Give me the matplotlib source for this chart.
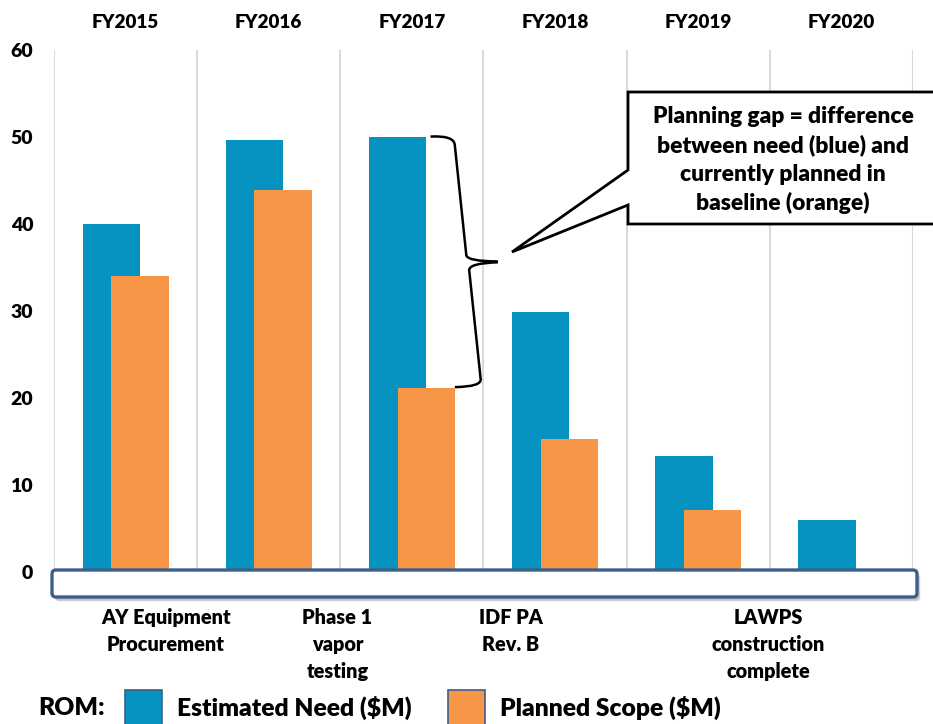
import numpy as np
import matplotlib.pyplot as plt
from matplotlib.patches import FancyBboxPatch, Rectangle, Polygon, PathPatch
from matplotlib.path import Path

plt.rcParams["font.family"] = ["Lato", "DejaVu Sans"]
WT = 800

# data
years = ["FY2015", "FY2016", "FY2017", "FY2018", "FY2019", "FY2020"]
need = [40.0, 49.7, 50.0, 29.9, 13.3, 6.0]
planned = [34.0, 43.9, 21.2, 15.3, 7.1, 0.0]
milestones = ["AY Equipment\nProcurement", "Phase 1\nvapor\ntesting",
              "IDF PA\nRev. B", "LAWPS\nconstruction\ncomplete"]
milestone_pos = [0.28, 1.48, 2.69, 4.49]
callout = "Planning gap = difference\nbetween need (blue) and\ncurrently planned in\nbaseline (orange)"

BLUE = "#0693BF"
ORANGE = "#F79646"
EDGE = "#3D5F8C"

W, H = 933, 724
fig = plt.figure(figsize=(W / 100, H / 100), dpi=100)
ax = fig.add_axes([54 / W, 1 - 572 / H, 859 / W, 522 / H])
inch = fig.dpi_scale_trans


def px(x, y):
    # figure pixel (from top-left) -> inches
    return x / 100, (H - y) / 100


x = np.arange(len(years))
ax.vlines(np.arange(-0.5, len(years)), 0, 60, color="#D9D9D9", lw=1.5, zorder=0)
ax.bar(x - 0.1, need, width=0.4, color=BLUE, zorder=2)
ax.bar(x + 0.1, planned, width=0.4, color=ORANGE, zorder=3)

ax.set_xlim(-0.5, len(years) - 0.5)
ax.set_ylim(0, 60)
ax.set_yticks(range(0, 61, 10))
ax.xaxis.tick_top()
ax.set_xticks(x)
ax.set_xticklabels(years, fontsize=13.6, fontweight=WT)
ax.tick_params(axis="x", length=0, pad=14)
ax.tick_params(axis="y", length=0, pad=15, labelsize=14)
for lab in ax.get_yticklabels():
    lab.set_fontweight(WT)
for s in ax.spines.values():
    s.set_visible(False)

# bottom timeline box with a soft shadow
bx, by = px(52, 597)
bw, bh = 865 / 100, 27 / 100
for i, a in enumerate([0.12, 0.18, 0.25]):
    off = (3 - i) / 100
    fig.patches.append(FancyBboxPatch((bx + 0.02 + off / 2, by - 0.03 - off / 2), bw, bh,
                                      boxstyle="round,pad=0,rounding_size=0.04",
                                      transform=inch, fc="#7F7F7F", ec="none", alpha=a))
fig.patches.append(FancyBboxPatch((bx, by), bw, bh, boxstyle="round,pad=0,rounding_size=0.04",
                                  transform=inch, fc="white", ec=EDGE, lw=2.4))

# milestone labels under the box
for pos, lab in zip(milestone_pos, milestones):
    ax.text(pos, -4.1, lab, ha="center", va="top", fontsize=14.3, fontweight=WT,
            linespacing=1.52, clip_on=False)

# curly brace showing the gap for FY2017
top, bot = need[2], planned[2]
mid = (top + bot) / 2
verts = [(2.13, top + 0.05), (2.30, top + 0.2), (2.30, top - 1.0),
         (2.38, mid + 0.8), (2.39, mid + 0.1), (2.60, mid + 0.1),
         (2.60, mid), (2.40, mid - 0.1), (2.40, mid - 0.9),
         (2.48, bot + 1.0), (2.49, bot + 0.1), (2.30, bot + 0.05)]
codes = [Path.MOVETO, Path.CURVE3, Path.CURVE3, Path.LINETO, Path.CURVE3, Path.CURVE3,
         Path.MOVETO, Path.CURVE3, Path.CURVE3, Path.LINETO, Path.CURVE3, Path.CURVE3]
ax.add_patch(PathPatch(Path(verts, codes), fc="none", ec="black", lw=1.8,
                       zorder=4, clip_on=False))

# callout box with pointer
pts = [px(628, 92), px(945, 92), px(945, 224), px(628, 224),
       px(628, 205), px(512, 252), px(628, 170)]
fig.patches.append(Polygon(pts, closed=True, transform=inch, fc="white",
                           ec="black", lw=2, joinstyle="miter"))
cx, cy = px(783, 160)
fig.text(cx / (W / 100), cy / (H / 100), callout, ha="center", va="center",
         fontsize=16.4, fontweight=WT, linespacing=1.43, multialignment="center")

# legend row
fig.text(38 / W, 1 - 708 / H, "ROM:", ha="left", va="center", fontsize=17.7, fontweight=WT)
for x0, col, lab in [(125, BLUE, "Estimated Need ($M)"), (448, ORANGE, "Planned Scope ($M)")]:
    sx, sy = px(x0, 735)
    fig.patches.append(Rectangle((sx, sy), 0.37, 0.45, transform=inch, fc=col,
                                 ec=EDGE, lw=1.2))
    fig.text((x0 + 52) / W, 1 - 708 / H, lab, ha="left", va="center",
             fontsize=17.7, fontweight=WT)

fig.savefig("out.png", dpi=100)
